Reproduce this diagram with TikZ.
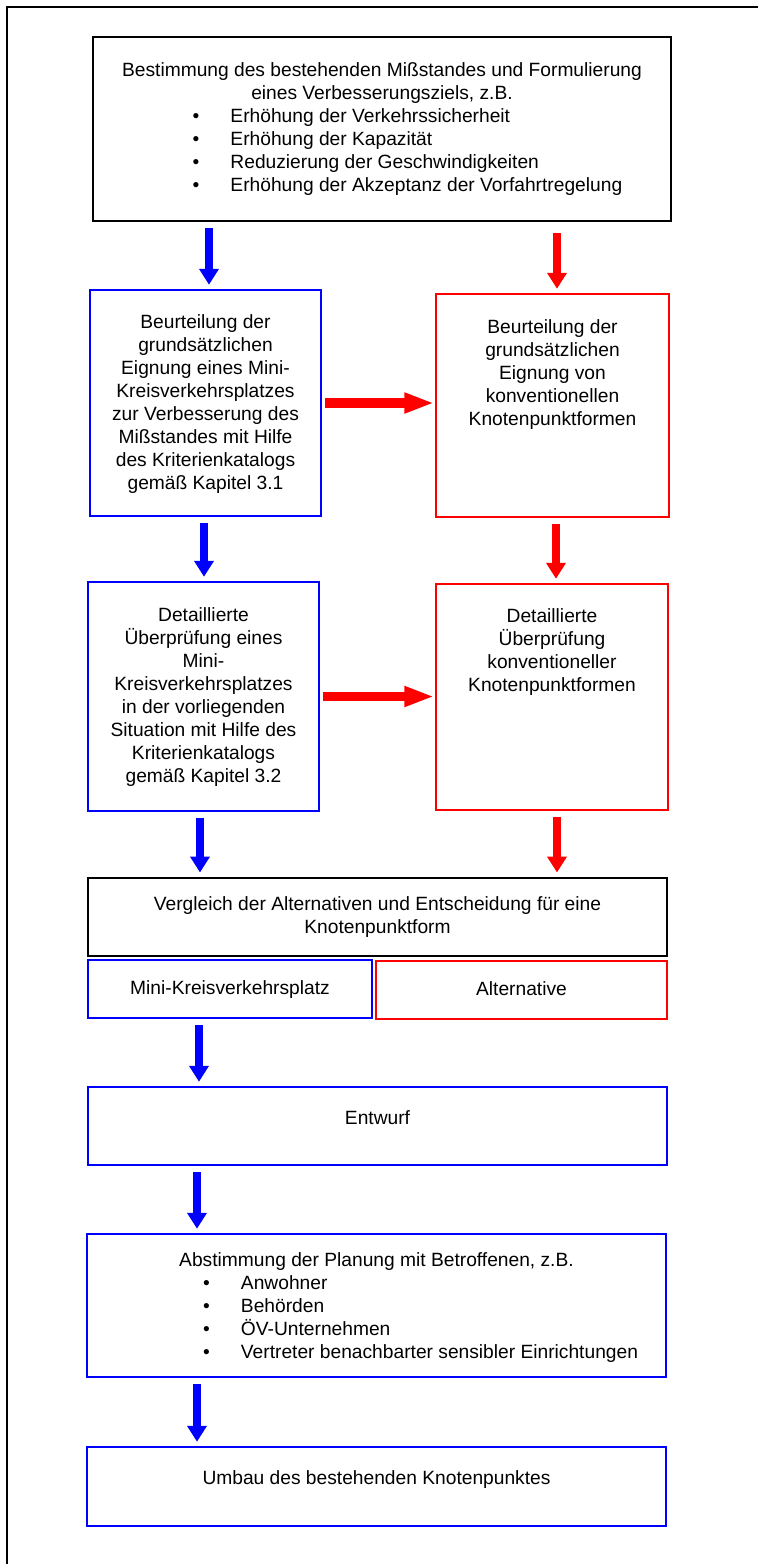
\documentclass[tikz,border=0pt]{standalone}
\usepackage{fontspec}
\setmainfont{Liberation Sans}
\usetikzlibrary{positioning,arrows.meta,fit}
\tikzset{
  kasten/.style={draw, line width=0.75pt, inner sep=0pt},
  blaukasten/.style={kasten, draw=blue},
  rotkasten/.style={kasten, draw=red},
  schwarzkasten/.style={kasten, draw=black, line width=1pt},
  kastentext/.style={align=center, inner sep=0pt, font=\fontsize{9.6}{11.5}\selectfont},
  blaupfeil/.style={blue, line width=4.25pt, -{Triangle[length=8pt, width=9.5pt]},
    shorten <=3pt, shorten >=2.25pt},
  rotpfeil/.style={blaupfeil, red},
  querpfeil/.style={red, line width=4.75pt, -{Triangle[length=15pt, width=9.5pt]},
    shorten <=1.5pt, shorten >=0.5pt},
}
\newcommand{\listpunkt}[2]{\makebox[#1][l]{\makebox[19pt][l]{\textbullet}#2}}

\begin{document}
\begin{tikzpicture}[x=0.5pt, y=-0.5pt]
  \useasboundingbox (0,0) rectangle (757,1564);
  \draw[line width=1pt] (7,1600) -- (7,7) -- (800,7);

  % Kaesten
  \node[schwarzkasten, fit={(93,37) (671,221)}] (ziel) {};
  \node[blaukasten, fit={(90,290) (321,516)}] (beurtMini) {};
  \node[rotkasten, fit={(436,294) (669,517)}] (beurtKonv) {};
  \node[blaukasten, fit={(88,582) (319,811)}] (pruefMini) {};
  \node[rotkasten, fit={(436,584) (668,810)}] (pruefKonv) {};
  \node[schwarzkasten, fit={(88,878) (667,956)}] (vergleich) {};
  \node[blaukasten, fit={(88,960) (372,1018)}] (mini) {};
  \node[rotkasten, fit={(376,961) (667,1019)}] (alternative) {};
  \node[blaukasten, fit={(88,1087) (667,1165)}] (entwurf) {};
  \node[blaukasten, fit={(87,1234) (666,1377)}] (abstimmung) {};
  \node[blaukasten, fit={(87,1447) (666,1526)}] (umbau) {};

  % Texte
  \node[kastentext, below=13pt of ziel.north] (zieltext) {Bestimmung des bestehenden Mißstandes und Formulierung\\
    eines Verbesserungsziels, z.B.\\
    \listpunkt{189.5pt}{Erhöhung der Verkehrssicherheit}\\
    \listpunkt{189.5pt}{Erhöhung der Kapazität}\\
    \listpunkt{189.5pt}{Reduzierung der Geschwindigkeiten}\\
    \listpunkt{189.5pt}{Erhöhung der Akzeptanz der Vorfahrtregelung}};
  \node[kastentext, below=12.5pt of beurtMini.north] (beurtMinitext) {Beurteilung der\\grundsätzlichen\\Eignung eines Mini-\\Kreisverkehrsplatzes\\zur Verbesserung des\\Mißstandes mit Hilfe\\des Kriterienkatalogs\\gemäß Kapitel 3.1};
  \node[kastentext, below=13pt of beurtKonv.north] (beurtKonvtext) {Beurteilung der\\grundsätzlichen\\Eignung von\\konventionellen\\Knotenpunktformen};
  \node[kastentext, below=13pt of pruefMini.north] (pruefMinitext) {Detaillierte\\Überprüfung eines\\Mini-\\Kreisverkehrsplatzes\\in der vorliegenden\\Situation mit Hilfe des\\Kriterienkatalogs\\gemäß Kapitel 3.2};
  \node[kastentext, below=12.5pt of pruefKonv.north] (pruefKonvtext) {Detaillierte\\Überprüfung\\konventioneller\\Knotenpunktformen};
  \node[kastentext, below=9.5pt of vergleich.north] (vergleichtext) {Vergleich der Alternativen und Entscheidung für eine\\Knotenpunktform};
  \node[kastentext, anchor=base] (minitext) at ([yshift=-2.5pt]mini.center) {Mini-Kreisverkehrsplatz};
  \node[kastentext, anchor=base] (alternativetext) at ([yshift=-2.5pt]alternative.center) {Alternative};
  \node[kastentext, below=12pt of entwurf.north] (entwurftext) {Entwurf};
  \node[kastentext, below=9.5pt of abstimmung.north] (abstimmungtext) {Abstimmung der Planung mit Betroffenen, z.B.\\
    \listpunkt{173.5pt}{Anwohner}\\
    \listpunkt{173.5pt}{Behörden}\\
    \listpunkt{173.5pt}{ÖV-Unternehmen}\\
    \listpunkt{173.5pt}{Vertreter benachbarter sensibler Einrichtungen}};
  \node[kastentext, below=12pt of umbau.north] (umbautext) {Umbau des bestehenden Knotenpunktes};

  % Pfeile
  \foreach \von/\nach/\x in {ziel/beurtMini/209, beurtMini/pruefMini/204, pruefMini/vergleich/200,
      mini/entwurf/199, entwurf/abstimmung/197, abstimmung/umbau/197}
    \draw[blaupfeil] (\von.south -| \x,0) -- (\nach.north -| \x,0);
  \foreach \von/\nach/\x in {beurtKonv/pruefKonv/556, pruefKonv/vergleich/557}
    \draw[rotpfeil] (\von.south -| \x,0) -- (\nach.north -| \x,0);
  \draw[rotpfeil, shorten <=5.5pt] (ziel.south -| 557,0) -- (beurtKonv.north -| 557,0);
  \draw[querpfeil] (beurtMini.east) -- (beurtMini.east -| beurtKonv.west);
  \draw[querpfeil] (pruefMini.east) -- (pruefMini.east -| pruefKonv.west);
\end{tikzpicture}
\end{document}
